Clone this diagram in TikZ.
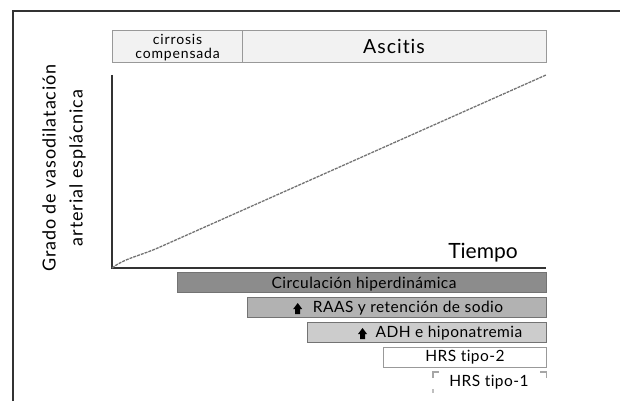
\documentclass[tikz,border=0pt]{standalone}
\usepackage{fontspec}
\setmainfont{Lato}[Ligatures=NoCommon]
\newcommand{\ls}[1]{\addfontfeature{LetterSpace=#1}}
\begin{document}
\begin{tikzpicture}[x=1pt,y=-1pt,
  topbox/.style={draw=black!40,line width=1.2pt,fill=black!5,inner sep=0pt},
  bar/.style={draw=black!55,line width=1.2pt,inner sep=0pt,minimum height=20pt,anchor=north west},
  bartext/.style={inner sep=0pt,font=\fontsize{15.5}{15.5}\selectfont\ls{3}},
  uparrow/.pic={\fill[black] (-2.5,0) -- (-2.5,-5) -- (-4.5,-5) -- (0,-11) -- (4.5,-5) -- (2.5,-5) -- (2.5,0) -- cycle;}]
\useasboundingbox (0,0) rectangle (620,401);
% frame
\draw[line width=1.3pt,black!80] (13,401) -- (13,11) -- (620,11);
% top boxes
\node[topbox,minimum width=130pt,minimum height=32pt,anchor=north west] (cc) at (112,30) {};
\node[align=center,font=\fontsize{14}{13.5}\selectfont\ls{6},inner sep=0pt] (cctext) at ([yshift=-1pt]cc.center) {cirrosis\\compensada};
\node[topbox,minimum width=304pt,minimum height=32pt,anchor=north west] (asc) at (242,30) {};
\node[font=\fontsize{19.5}{19.5}\selectfont\ls{5},inner sep=0pt] (asctext) at (394,46) {Ascitis};
% axes
\coordinate (o) at (112,268);
\coordinate (ytop) at (112,75);
\coordinate (xend) at (546,268);
\coordinate (dend) at (546,75);
\draw[line width=1.5pt,black!80] (ytop) -- (o) -- (xend);
\draw[black!55,line width=1.3pt,dash pattern=on 3pt off 1pt] (o) .. controls (125,258) and (140,256) .. (160,247) -- (dend);
\node[font=\fontsize{21}{21}\selectfont,inner sep=0pt] (tiempo) at (483,253) {Tiempo};
\node[rotate=90,align=center,font=\fontsize{18}{27}\selectfont\ls{5},anchor=center] (ylab) at (64,168) {Grado de vasodilatación\\arterial esplácnica};
% bars
\node[bar,fill=black!45,minimum width=369pt] (b1) at (177,272) {};
\node[bartext] (t1) at (364,284) {Circulación hiperdinámica};
\node[bar,fill=black!30,minimum width=299pt] (b2) at (247,297) {};
\node[bartext] (t2) at (408,308) {RAAS y retención de sodio};
\node[bar,fill=black!20,minimum width=239pt] (b3) at (307,322) {};
\node[bartext] (t3) at (449,333) {ADH e hiponatremia};
\node[bar,fill=white,draw=black!40,minimum width=163pt] (b4) at (383,347) {};
\node[bartext] (t4) at (465,357) {HRS tipo-2};
\node[inner sep=0pt,minimum width=113pt,minimum height=20pt,anchor=north west] (b5) at (433,372) {};
\node[bartext] (t5) at (489,382) {HRS tipo-1};
\draw[black!35,line width=1.5pt] (b5.north west) ++(0,6) -- (b5.north west) -- ++(6,0);
\draw[black!35,line width=1.5pt] (b5.north east) ++(0,6) -- (b5.north east) -- ++(-6,0);
\draw[black!25,line width=1.5pt] (b5.west) ++(0,7) -- ++(0,4);
\path (t2.west) ++(-15,6) pic {uparrow};
\path (t3.west) ++(-13,6) pic {uparrow};
\end{tikzpicture}
\end{document}
